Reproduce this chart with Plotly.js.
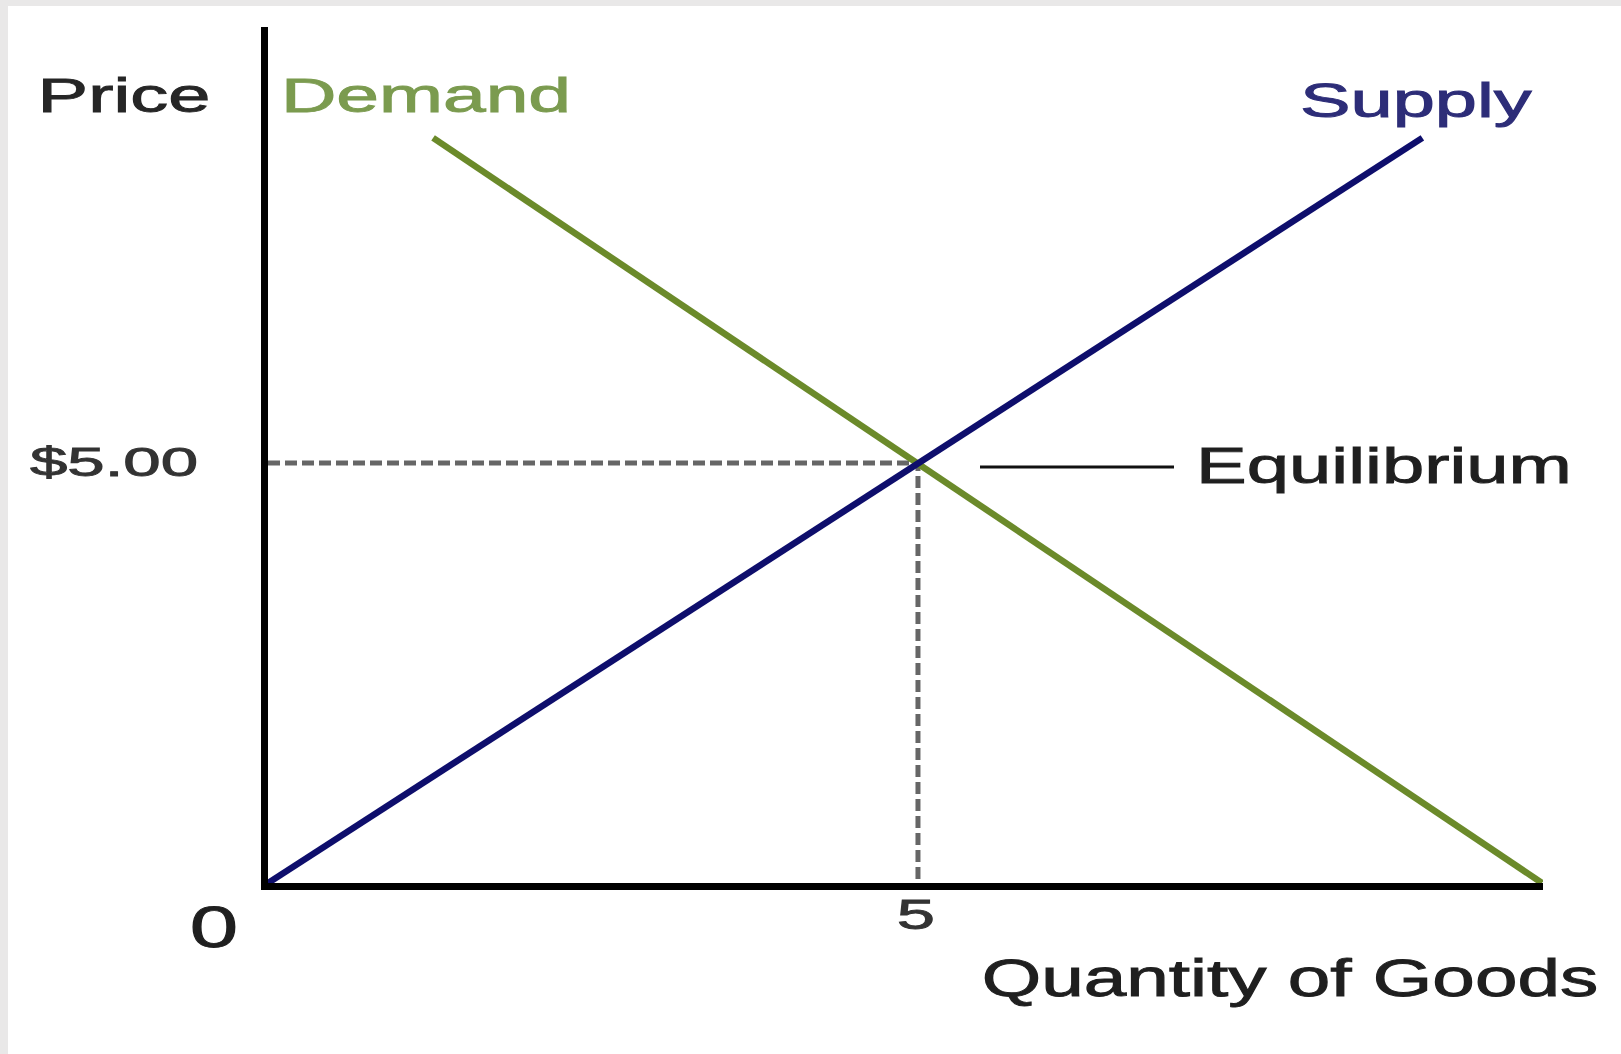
<!DOCTYPE html>
<html><head><meta charset="utf-8">
<script src="https://cdn.plot.ly/plotly-3.0.1.min.js"></script>
<style>html,body{margin:0;padding:0;background:#fff;overflow:hidden}#chart{width:1621px;height:1054px}</style>
</head><body><div id="chart"></div>
<script>
// ---- data ----
const demandQty = [1.27, 5, 9.8];
const demandPrice = [8.87, 5, 0];
const supplyQty = [0, 5, 8.88];
const supplyPrice = [0, 5, 8.87];
const equilibriumQty = [5];
const equilibriumPrice = [5];
const xTickVals = [5];
const xTickText = ['5'];
const yTickVals = [5];
const yTickText = ['$5.00'];
const xRange = [0, 9.808];
const yRange = [0, 10.19];

// ---- layout geometry ----
const W = 1621, H = 1054, L = 268, R = 78, T = 27, B = 171;
const PW = W - L - R, PH = H - T - B;
const fx = px => (px - L) / PW;
const fy = py => (H - B - py) / PH;
const FONT = 'Liberation Sans, Arial, sans-serif';

const labels = [
  {text: 'Price', cx: 124, cy: 95, size: 48, color: '#262626', sx: 1.58},
  {text: 'Demand', cx: 426, cy: 96, size: 48, color: '#7b9b4f', sx: 1.6},
  {text: 'Supply', cx: 1416, cy: 100, size: 48, color: '#2d2d78', sx: 1.58},
  {text: 'Equilibrium', cx: 1384, cy: 466, size: 50, color: '#1f1f1f', sx: 1.52},
  {text: '0', cx: 214, cy: 927, size: 58, color: '#1f1f1f', sx: 1.5},
  {text: 'Quantity of Goods', cx: 1290, cy: 978, size: 51, color: '#1f1f1f', sx: 1.5}
];
const tickStyle = {
  x: {cx: 916, cy: 914, sx: 1.6, color: '#333'},
  y: {cx: 114, cy: 462, sx: 1.68, color: '#333'}
};

const guideQty = [0, equilibriumQty[0], equilibriumQty[0]];
const guidePrice = [equilibriumPrice[0], equilibriumPrice[0], 0];

const traces = [
  {x: guideQty, y: guidePrice, mode: 'lines', hoverinfo: 'skip',
   line: {color: '#666666', width: 5, dash: '12px,5px'}},
  {x: demandQty, y: demandPrice, mode: 'lines', name: 'Demand',
   line: {color: '#6b8a2a', width: 6.5}},
  {x: supplyQty, y: supplyPrice, mode: 'lines', name: 'Supply',
   line: {color: '#0e0e6c', width: 6.5}}
];

const layout = {
  width: W, height: H,
  margin: {l: L, r: R, t: T, b: B, pad: 0},
  paper_bgcolor: '#ffffff', plot_bgcolor: 'rgba(0,0,0,0)',
  showlegend: false,
  font: {family: FONT},
  xaxis: {range: xRange, showline: true, linecolor: '#000', linewidth: 7,
    showgrid: false, zeroline: false, ticks: '', tickvals: xTickVals, ticktext: xTickText,
    tickfont: {family: FONT, size: 43, color: '#333'}, layer: 'below traces',
    ticklabelstandoff: 4, fixedrange: true},
  yaxis: {range: yRange, showline: true, linecolor: '#000', linewidth: 7,
    showgrid: false, zeroline: false, ticks: '', tickvals: yTickVals, ticktext: yTickText,
    tickfont: {family: FONT, size: 40, color: '#333'}, layer: 'below traces',
    ticklabelstandoff: 60, fixedrange: true},
  shapes: [
    {type: 'rect', xref: 'paper', yref: 'paper', layer: 'below',
     x0: fx(0), x1: fx(W), y0: fy(6), y1: fy(0), fillcolor: '#e9e8e8', line: {width: 0}},
    {type: 'rect', xref: 'paper', yref: 'paper', layer: 'below',
     x0: fx(0), x1: fx(8), y0: fy(H), y1: fy(0), fillcolor: '#e9e8e8', line: {width: 0}},
    {type: 'line', xref: 'paper', yref: 'paper',
     x0: fx(980), x1: fx(1174), y0: fy(467), y1: fy(467), line: {color: '#111', width: 3}}
  ],
  annotations: labels.map(a => ({
    text: a.text, xref: 'paper', yref: 'paper', x: fx(a.cx), y: fy(a.cy),
    xanchor: 'center', yanchor: 'middle', showarrow: false,
    font: {family: FONT, size: a.size, color: a.color}
  }))
};

function stretch(el, sx, tcx, tcy, color) {
  const orig = el.getAttribute('transform') || '';
  const bb = el.getBBox();
  const lcx = bb.x + bb.width / 2;
  const sp = ' translate(' + lcx + ',0) scale(' + sx + ',1) translate(' + (-lcx) + ',0)';
  el.setAttribute('transform', orig + sp);
  const r = el.getBoundingClientRect();
  const dx = tcx - (r.left + r.width / 2);
  const dy = tcy - (r.top + r.height / 2);
  el.setAttribute('transform', 'translate(' + dx + ',' + dy + ') ' + orig + sp);
  el.style.stroke = color;
  el.style.strokeWidth = '0.9px';
}

Plotly.newPlot('chart', traces, layout, {staticPlot: true, displayModeBar: false}).then(gd => {
  labels.forEach((a, i) => {
    const el = gd.querySelector('g.annotation[data-index="' + i + '"] text.annotation-text');
    if (el) stretch(el, a.sx, a.cx, a.cy, a.color);
  });
  gd.querySelectorAll('g.xtick text').forEach(el => stretch(el, tickStyle.x.sx, tickStyle.x.cx, tickStyle.x.cy, tickStyle.x.color));
  gd.querySelectorAll('g.ytick text').forEach(el => stretch(el, tickStyle.y.sx, tickStyle.y.cx, tickStyle.y.cy, tickStyle.y.color));
});
</script>
</body></html>
